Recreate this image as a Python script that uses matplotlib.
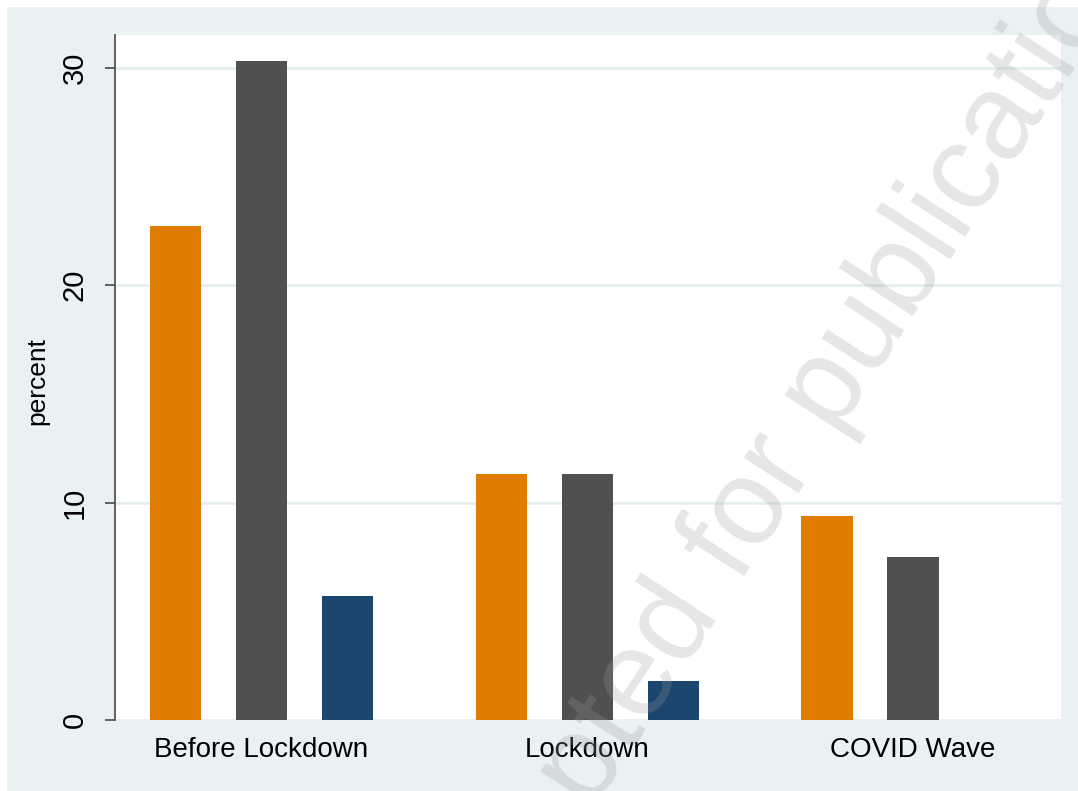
import numpy as np
import matplotlib.pyplot as plt
from matplotlib.patches import Rectangle

plt.rcParams['font.family'] = ['Liberation Sans', 'DejaVu Sans']

# data
periods = ['Before Lockdown', 'Lockdown', 'COVID Wave']
series_a = [22.7, 11.3, 9.4]   # orange
series_b = [30.3, 11.3, 7.5]   # dark gray
series_c = [5.7, 1.8, 0.0]     # navy
yticks = [0, 10, 20, 30]

colors = ['#e07c00', '#505050', '#1b466e']
bar_w = 0.157
offset = 0.264

fig = plt.figure(figsize=(10.78, 7.91), dpi=100)
fig.patch.set_facecolor('white')
# stata style outer region
fig.patches.append(Rectangle((7/1078, 0), 1, 1 - 7/791, transform=fig.transFigure,
                             facecolor='#e9f1f3', edgecolor='none', zorder=-10))

ax = fig.add_axes([115/1078, 1 - 720/791, (1061 - 115)/1078, (720 - 35)/791])
ax.set_facecolor('white')

x = np.arange(len(periods))
for i, (vals, c) in enumerate(zip([series_a, series_b, series_c], colors)):
    ax.bar(x + (i - 1)*offset, vals, width=bar_w, color=c, linewidth=0, zorder=3)

ax.set_xlim(-0.449, 2.454)
ax.set_ylim(0, 31.5)
ax.set_yticks(yticks)
ax.set_yticklabels([str(t) for t in yticks], rotation=90, va='center', fontsize=21)
ax.set_xticks(x)
ax.set_xticklabels(periods, fontsize=20)
ax.tick_params(axis='x', length=0, pad=12)
ax.tick_params(axis='y', length=7, width=1.3, color='#555555', pad=12)
ax.grid(axis='y', color='#e3edf0', linewidth=1.8, zorder=0)
ax.set_ylabel('percent', fontsize=19)
ax.yaxis.set_label_coords(-0.069, 0.495)

for s in ['top', 'right', 'bottom']:
    ax.spines[s].set_visible(False)
ax.spines['left'].set_color('#555555')
ax.spines['left'].set_linewidth(1.3)

# watermark, starts below the bottom edge
fig.text(0.4113, -0.3168, 'Accepted for publication', fontsize=88, color='#9a9a9a',
         alpha=0.25, rotation=57, rotation_mode='anchor', ha='left', va='baseline',
         zorder=10)

fig.savefig('out.png', dpi=100, facecolor=fig.get_facecolor())
